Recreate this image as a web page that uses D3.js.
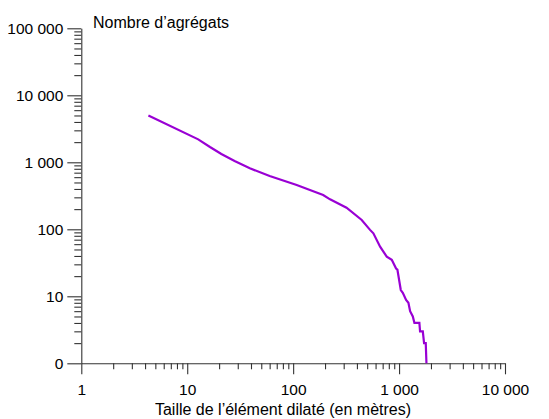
<!DOCTYPE html>
<html>
<head>
  <meta charset="utf-8">
  <script src="https://d3js.org/d3.v7.min.js"></script>
  <style>
    body { margin: 0; background: #fff; }
    svg text { font-family: "Liberation Sans", Arial, sans-serif; font-size: 16px; fill: #000; }
    .axis text { font-size: 15.5px; }
    .axis path, .axis line { stroke: #333; stroke-width: 1.1; }
  </style>
</head>
<body>
  <div id="chart"></div>
  <script>
    // taille (m) et nombre d'agrégats
    const sizes = [4.3, 12.7, 16.4, 21, 28, 39, 60, 108, 144, 192, 223, 319, 444, 532, 572, 662, 765, 853, 937, 964,
                   1038, 1084, 1165, 1225, 1271, 1348, 1396, 1555, 1578, 1675, 1722, 1786, 1813];
    const counts = [5000, 2200, 1690, 1330, 1045, 813, 625, 458, 386, 325, 280, 210, 138, 98, 87, 55, 39, 35, 26, 25,
                    12.4, 11.3, 8.8, 8, 6, 5, 4, 4, 3, 3, 2, 2, 1];
    const xTicks = [1, 10, 100, 1000, 10000];
    const yTicks = [1, 10, 100, 1000, 10000, 100000];
    const xTickLabels = ["1", "10", "100", "1 000", "10 000"];
    const yTickLabels = ["0", "10", "100", "1 000", "10 000", "100 000"];

    const width = 549, height = 419;
    const svg = d3.select("#chart").append("svg").attr("width", width).attr("height", height);

    const x = d3.scaleLog().domain([1, 10000]).range([81.3, 505]);
    const y = d3.scaleLog().domain([1, 100000]).range([363.3, 28.3]);

    const minor = (lo, hi) => {
      let out = [];
      for (let d = lo; d < hi; d *= 10)
        for (let k = 2; k <= 9; k++) out.push(d * k);
      return out;
    };

    // minor ticks
    svg.append("g").attr("class", "axis").attr("transform", "translate(0,363.3)")
      .call(d3.axisBottom(x).tickValues(minor(1, 10000)).tickSize(6).tickFormat("").tickSizeOuter(0))
      .select(".domain").remove();
    svg.append("g").attr("class", "axis").attr("transform", "translate(81.3,0)")
      .call(d3.axisLeft(y).tickValues(minor(1, 100000)).tickSize(7).tickFormat("").tickSizeOuter(0))
      .select(".domain").remove();

    // major ticks
    svg.append("g").attr("class", "axis").attr("transform", "translate(0,363.3)")
      .call(d3.axisBottom(x).tickValues(xTicks).tickSize(11).tickPadding(10).tickSizeOuter(0)
        .tickFormat((d, i) => xTickLabels[i]));
    svg.append("g").attr("class", "axis").attr("transform", "translate(81.3,0)")
      .call(d3.axisLeft(y).tickValues(yTicks).tickSize(14).tickPadding(4).tickSizeOuter(0)
        .tickFormat((d, i) => yTickLabels[i]));
    svg.selectAll(".axis text").attr("font-size", null).attr("font-family", null).attr("fill", null);

    const pts = sizes.map((s, i) => [s, counts[i]]);
    svg.append("path")
      .datum(pts)
      .attr("fill", "none")
      .attr("stroke", "#9900d4")
      .attr("stroke-width", 2.2)
      .attr("d", d3.line().x(d => x(d[0])).y(d => y(d[1])));

    svg.append("text").attr("x", 93).attr("y", 28).text("Nombre d’agrégats");
    svg.append("text").attr("x", 283).attr("y", 415).attr("text-anchor", "middle")
      .text("Taille de l’élément dilaté (en mètres)");
  </script>
</body>
</html>
